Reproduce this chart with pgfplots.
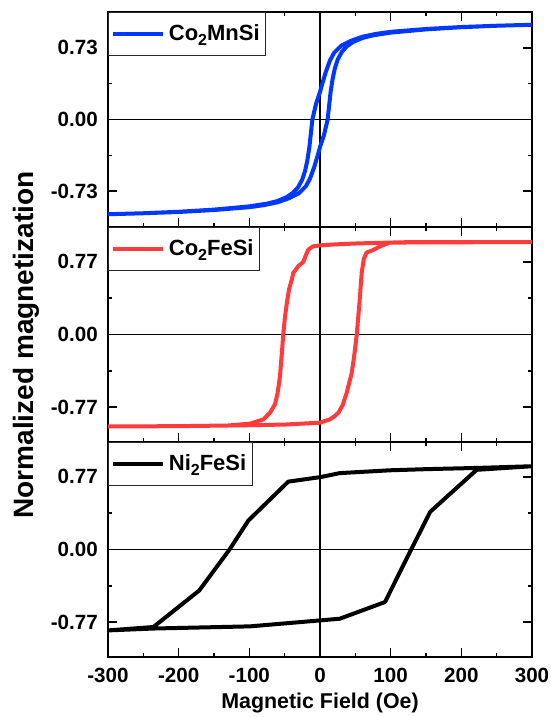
\documentclass[border=0pt]{standalone}
\usepackage{fontspec}
\setmainfont{Liberation Sans}
\usepackage{pgfplots}
\pgfplotsset{compat=1.18}
\definecolor{cblue}{RGB}{0,56,255}
\definecolor{cred}{RGB}{255,59,59}
\newcommand{\sub}[1]{\raisebox{-0.45ex}{\fontsize{8}{9}\selectfont #1}}
\pgfplotsset{
 panel/.style={
  scale only axis, width=212pt, height=107.5pt,
  xmin=-300, xmax=300,
  xtick={-300,-200,-100,0,100,200,300},
  minor xtick={-250,-150,-50,50,150,250},
  tick align=inside,
  major tick length=4.3pt, minor tick length=2.2pt,
  tick style={line width=0.8pt, black},
  axis line style={line width=1pt},
  /pgf/number format/assume math mode=true,
  ticklabel style={font=\bfseries\fontsize{10.3}{12}\selectfont},
  yticklabel style={xshift=-1.6pt},
  xticklabel style={yshift=-2pt},
  legend style={at={(0,1)}, anchor=north west, draw=black!85, line width=0.5pt,
    font=\bfseries\fontsize{11}{13}\selectfont, inner xsep=1pt, inner ysep=4pt},
  legend cell align=left,
 }
}
\pgfplotsset{legend image code/.code={\draw[#1,line width=2.2pt] (0pt,0pt) -- (25pt,0pt);}}
\begin{document}
\begin{tikzpicture}
\useasboundingbox (-54pt,6pt) rectangle (221.5pt,-352.5pt);
% ---------- Co2MnSi ----------
\begin{axis}[panel, at={(0pt,0pt)}, anchor=north west,
  ymin=-1.095, ymax=1.095,
  ytick={-0.73,0,0.73}, yticklabels={-0.73,0.00,0.73},
  minor ytick={-0.365,0.365},
  xticklabels={}]
\draw[line width=0.65pt] (axis cs:-300,0) -- (axis cs:300,0);
\draw[line width=1pt] (axis cs:0,-1.095) -- (axis cs:0,1.095);
\addplot[cblue, line width=2pt, line join=round] table {
x y
300 0.965
250 0.955
200 0.942
150 0.922
100 0.893
80 0.873
60 0.843
45 0.805
30 0.752
20 0.68
14 0.60
8 0.48
3 0.36
0 0.28
-5.6 0.16
-10.8 0
-15 -0.28
-18 -0.42
-21 -0.52
-25 -0.61
-31 -0.69
-38 -0.745
-47 -0.79
-60 -0.83
-75 -0.857
-100 -0.885
-150 -0.918
-200 -0.94
-250 -0.955
-300 -0.965
-250 -0.955
-200 -0.942
-150 -0.922
-100 -0.893
-80 -0.873
-60 -0.843
-45 -0.805
-30 -0.752
-20 -0.68
-14 -0.60
-8 -0.48
-3 -0.36
0 -0.28
5.6 -0.16
10.8 0
15 0.28
18 0.42
21 0.52
25 0.61
31 0.69
38 0.745
47 0.79
60 0.83
75 0.857
100 0.885
150 0.918
200 0.94
250 0.955
300 0.965
};
\addlegendentry{Co\sub{2}MnSi}
\end{axis}
% ---------- Co2FeSi ----------
\begin{axis}[panel, at={(0pt,-107.5pt)}, anchor=north west,
  ymin=-1.14, ymax=1.14,
  ytick={-0.77,0,0.77}, yticklabels={-0.77,0.00,0.77},
  minor ytick={-0.385,0.385},
  xticklabels={}]
\draw[line width=0.65pt] (axis cs:-300,0) -- (axis cs:300,0);
\draw[line width=1pt] (axis cs:0,-1.14) -- (axis cs:0,1.14);
\addplot[cred, line width=2pt, line join=round] table {
x y
300 0.98
200 0.978
100 0.975
50 0.965
20 0.955
0 0.945
-10 0.935
-16.5 0.90
-19 0.86
-23.6 0.77
-30.7 0.725
-34 0.69
-37.7 0.655
-40 0.58
-43.8 0.48
-47 0.33
-49.5 0.19
-52 0
-54 -0.2
-56.6 -0.44
-60 -0.62
-63.7 -0.74
-70.8 -0.83
-80 -0.90
-99 -0.945
-130 -0.965
-200 -0.972
-300 -0.975
-200 -0.972
-100 -0.962
-50 -0.955
0 -0.935
14 -0.90
20 -0.87
26 -0.83
32 -0.75
37.7 -0.62
44.8 -0.41
48 -0.25
52 0
56 0.35
59 0.655
62 0.80
66 0.87
75 0.895
85 0.935
99 0.975
130 0.98
200 0.98
300 0.98
};
\addlegendentry{Co\sub{2}FeSi}
\end{axis}
% ---------- Ni2FeSi ----------
\begin{axis}[panel, at={(0pt,-215pt)}, anchor=north west,
  ymin=-1.14, ymax=1.14,
  ytick={-0.77,0,0.77}, yticklabels={-0.77,0.00,0.77},
  minor ytick={-0.385,0.385},
  xticklabels={-300,-200,-100,0,100,200,300}]
\draw[line width=0.65pt] (axis cs:-300,0) -- (axis cs:300,0);
\draw[line width=1pt] (axis cs:0,-1.14) -- (axis cs:0,1.14);
\addplot[black, line width=2pt, line join=round] table {
x y
300 0.883
222 0.865
150 0.852
99 0.84
28 0.81
0 0.767
-44.8 0.72
-101.4 0.307
-128 0
-170.8 -0.434
-235.8 -0.822
-300 -0.858
-235.8 -0.838
-99 -0.815
0 -0.752
28 -0.734
92 -0.557
127 -0.03
156 0.40
221.7 0.845
300 0.883
};
\addlegendentry{Ni\sub{2}FeSi}
\end{axis}
\node[rotate=90, font=\bfseries\fontsize{14}{16}\selectfont] at (-41pt,-166.5pt) {Normalized magnetization};
\node[font=\bfseries\fontsize{10.7}{13}\selectfont] at (106pt,-345.5pt) {Magnetic Field (Oe)};
\end{tikzpicture}
\end{document}
